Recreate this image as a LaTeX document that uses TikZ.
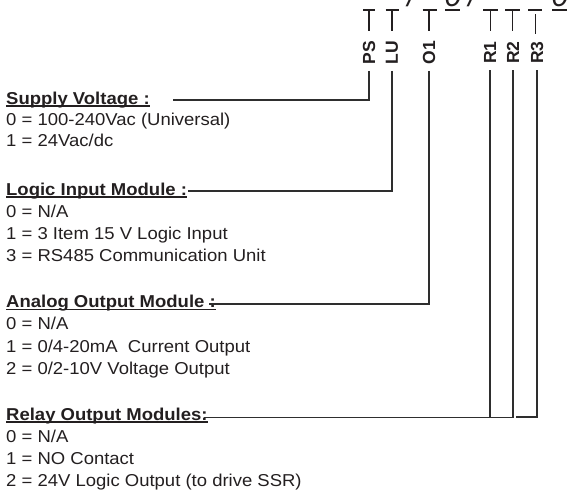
\documentclass[tikz,border=0pt]{standalone}
\usepackage{fontspec}
\setmainfont{Liberation Sans}[FakeStretch=1.075]
\newfontfamily\lblfont{Liberation Sans}
\definecolor{txt}{HTML}{231F20}
\definecolor{linec}{HTML}{2E2E2E}
\tikzset{
  conn/.style={draw=linec, line width=1.4pt},
  uline/.style={draw=txt, line width=1.4pt},
  head/.style={font=\fontsize{17.2}{20}\selectfont\bfseries, text=txt, inner sep=0pt, anchor=base west},
  item/.style={font=\fontsize{17.2}{20}\selectfont, text=txt, inner sep=0pt, anchor=base west},
  lbl/.style={font=\lblfont\fontsize{17.5}{20}\selectfont\bfseries, rotate=90, inner sep=0pt, text=txt},
  codebar/.style={draw=txt, line width=1.8pt},
  tick/.style={draw=txt, line width=1.3pt},
  big/.style={font=\lblfont\fontsize{30}{30}\selectfont\itshape, inner sep=0pt, anchor=base, text=txt},
}
\begin{document}
\begin{tikzpicture}[x=1pt,y=-1pt]
\useasboundingbox (0,0) rectangle (569,491);
\clip (0,0) rectangle (569,491);

% code line at top (clipped glyphs, as in the reference)
\node[big] (sl1) at (411.5,6.5) {/};
\node[big] (z1) at (453,6.5) {0};
\node[big] (sl2) at (472.5,6.5) {/};
\node[big] (z2) at (560,6.5) {0};
\foreach \a/\b in {363/375,385.5/399,422.5/436.5,445/460,483/498,505/520,528/542,552/567}
  \draw[codebar] (\a,10) -- (\b,10);
\foreach \x in {369,392,429,490.5,512.5}
  \draw[tick] (\x,10) -- (\x,31);
\draw[tick] (535.5,14) -- (535.5,34);

% rotated labels
\node[lbl] (ps) at (369,52.5) {PS};
\node[lbl] (lu) at (392,52.5) {LU};
\node[lbl] (o1) at (429,52.5) {O1};
\node[lbl] (r1) at (490,52.5) {R1};
\node[lbl] (r2) at (513,52.5) {R2};
\node[lbl] (r3) at (537,52.5) {R3};

% Supply voltage
\node[head] (sv) at (6,104) {Supply Voltage :};
\node[item] (sv0) at (6,125.5) {0 = 100-240Vac (Universal)};
\node[item] (sv1) at (6,146.5) {1 = 24Vac/dc};

% Logic input
\node[head] (li) at (6,195) {Logic Input Module :};
\node[item] (li0) at (6,217.3) {0 = N/A};
\node[item] (li1) at (6,239.6) {1 = 3 Item 15 V Logic Input};
\node[item] (li3) at (6,261.9) {3 = RS485 Communication Unit};

% Analog output
\node[head] (ao) at (6,307.5) {Analog Output Module :};
\node[item] (ao0) at (6,329.8) {0 = N/A};
\node[item] (ao1) at (6,352.1) {1 = 0/4-20mA\ \ Current Output};
\node[item] (ao2) at (6,374.4) {2 = 0/2-10V Voltage Output};

% Relay output
\node[head] (ro) at (6,420) {Relay Output Modules:};
\node[item] (ro0) at (6,442.3) {0 = N/A};
\node[item] (ro1) at (6,464.6) {1 = NO Contact};
\node[item] (ro2) at (6,486.9) {2 = 24V Logic Output (to drive SSR)};

% underlines
\foreach \n in {sv,li,ao,ro}
  \draw[uline] ([yshift=-2pt]\n.base west) -- ([yshift=-2pt]\n.base east);

% connectors
\coordinate (svEnd) at (173,100);
\coordinate (liEnd) at (188,191);
\coordinate (aoEnd) at (209,304);
\coordinate (roEnd) at (204,417.7);
\coordinate (r3End) at (515.5,416.8);
\draw[conn] ([yshift=-6.5pt]ps.west) |- (svEnd);
\draw[conn] ([yshift=-6.5pt]lu.west) |- (liEnd);
\draw[conn] ([yshift=-6.5pt]o1.west) |- (aoEnd);
\draw[conn] ([yshift=-6.5pt]r1.west) |- (roEnd);
\draw[conn] ([yshift=-6.5pt]r2.west) |- (r1 |- roEnd);
\draw[conn] ([yshift=-6.5pt]r3.west) |- (r3End);
\end{tikzpicture}
\end{document}
